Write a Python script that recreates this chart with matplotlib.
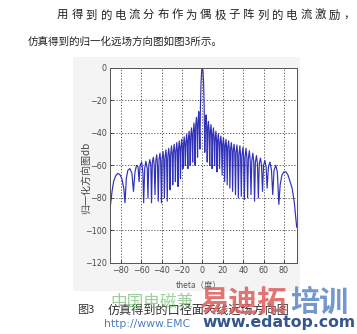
import matplotlib
matplotlib.use("Agg")
import matplotlib.pyplot as plt
from matplotlib.patches import Rectangle

plt.rcParams["font.family"] = ["Noto Sans CJK SC", "DejaVu Sans"]

W, H = 357, 334

# far-field pattern (theta in degrees, gain in dB)
theta_left = [
    -90.5, -88.5, -87.0, -85.0, -83.0, -81.0, -79.0, -77.0, -75.8, -74.5,
    -73.0, -71.0, -69.0, -67.5, -66.0, -64.5, -63.0, -62.0, -61.0, -59.5,
    -58.3, -57.5, -56.5, -55.3, -54.0, -53.3, -52.5, -51.5, -50.5, -49.8,
    -49.0, -48.0, -47.2, -46.4, -45.6, -44.7, -43.9, -43.2, -42.4, -41.5,
    -40.8, -40.1, -39.4, -38.5, -37.8, -37.2, -36.5, -35.7, -35.0, -34.4,
    -33.7, -32.9, -32.2, -31.6, -31.0, -30.2, -29.5, -29.0, -28.4, -27.6,
    -26.9, -26.4, -25.8, -25.0, -24.4, -23.9, -23.3, -22.6, -22.0, -21.4,
    -20.9, -20.2, -19.6, -19.0, -18.5, -17.8, -17.2, -16.6, -16.1, -15.4,
    -14.8, -14.2, -13.7, -13.0, -12.4, -11.9, -11.3, -10.6, -10.0, -9.5,
    -8.9, -8.2, -7.6, -7.1, -6.5, -5.8, -5.2, -4.7, -4.1, -3.5,
    -3.0, -2.4, -1.8, -1.2, -0.6, 0.0,
]
gain_left = [
    -87, -76, -70, -66.5, -65, -65.5, -68, -74, -83, -68,
    -63, -62, -65, -76, -64, -60, -61, -70, -60, -58,
    -64, -83, -62, -57.5, -62, -80, -60, -56.5, -60, -83,
    -58, -55, -60, -78, -57, -53.5, -60, -82, -56, -52.5,
    -58, -83, -56, -51.5, -57, -80, -55, -50.5, -56, -82,
    -54, -49.5, -55, -75, -53, -48, -54, -72, -52, -47,
    -53, -70, -51, -46, -52, -73, -50, -45, -50, -68,
    -49, -44, -49, -62, -48, -42.5, -48, -60, -46, -41,
    -46, -62, -44, -39, -45, -60, -42, -37, -43, -58,
    -40, -34, -40, -60, -36, -30.5, -36, -55, -32, -27,
    -33, -50, -22, -8, -1.5, 0.0,
]
theta_right = [
    0.6, 1.2, 1.8, 2.4, 3.0, 3.6, 4.2, 4.8, 5.4, 6.0,
    6.6, 7.2, 7.8, 8.5, 9.1, 9.6, 10.2, 10.9, 11.5, 12.0,
    12.6, 13.3, 13.9, 14.4, 15.0, 15.7, 16.3, 16.9, 17.5, 18.2,
    18.8, 19.4, 20.0, 20.7, 21.3, 21.9, 22.5, 23.2, 23.8, 24.4,
    25.0, 25.8, 26.4, 27.0, 27.7, 28.4, 29.1, 29.7, 30.3, 31.1,
    31.8, 32.5, 33.1, 33.9, 34.6, 35.3, 36.0, 36.8, 37.5, 38.2,
    38.9, 39.8, 40.5, 41.2, 41.9, 42.8, 43.6, 44.4, 45.1, 46.1,
    46.9, 47.7, 48.5, 49.5, 50.4, 51.2, 52.0, 53.1, 54.0, 54.9,
    55.8, 57.0, 58.0, 59.0, 60.0, 61.3, 62.5, 63.5, 64.8, 66.3,
    67.8, 69.0, 70.3, 72.0, 73.5, 75.0, 76.3, 78.0, 80.0, 82.0,
    84.0, 86.0, 88.0, 90.0, 91.5, 92.5,
]
gain_right = [
    -1.5, -9, -24, -52, -34, -29, -35, -58, -37, -33,
    -38, -60, -40, -35, -41, -62, -42, -37, -43, -60,
    -44, -39, -45, -64, -45, -40.5, -46, -62, -46, -42,
    -47, -66, -47, -43, -48, -70, -48, -44, -49, -72,
    -49, -45, -50, -74, -50, -46, -51, -76, -51, -47,
    -52, -78, -52, -47.5, -53, -80, -53, -48, -54, -79,
    -54, -49, -55, -81, -55, -49.5, -55, -80, -56, -51,
    -57, -78, -57, -52.5, -58, -82, -58, -54, -59, -80,
    -59, -55.5, -60, -76, -60, -57, -61, -74, -61, -58,
    -63, -78, -63, -60, -64, -84, -72, -66, -64, -64,
    -66, -70, -74, -82, -92, -98,
]

theta = theta_left + theta_right
gain = gain_left + gain_right

x_ticks = [-80, -60, -40, -20, 0, 20, 40, 60, 80]
y_ticks = [0, -20, -40, -60, -80, -100, -120]

para_line1 = "用得到的电流分布作为偶极子阵列的电流激励，"
para_line2 = "仿真得到的归一化远场方向图如图3所示。"
fig_no = "图3"
caption = "仿真得到的口径面天线远场方向图"
y_label = "归一化方向图db"
x_label = "theta（度）"


def fx(px):
    return px / W


def fy(py):
    return 1 - py / H


fig = plt.figure(figsize=(W / 100, H / 100), dpi=100)
fig.patch.set_facecolor("white")

# light grey box behind the embedded chart image
fig.patches.append(Rectangle((fx(73), fy(291)), fx(300) - fx(73), fy(57) - fy(291),
                             transform=fig.transFigure, facecolor="#f4f4f4",
                             edgecolor="none", zorder=-5))

ax = fig.add_axes([fx(110), fy(263), fx(296.7) - fx(110), fy(67.7) - fy(263)])
ax.set_zorder(1)
ax.set_facecolor("white")
ax.plot(theta, gain, color="#3030b8", lw=0.85)
ax.set_xlim(-90.5, 92.5)
ax.set_ylim(-120, 0)
ax.set_xticks(x_ticks)
ax.set_yticks(y_ticks)
ax.grid(True, color="#444444", ls=(0, (1.5, 2)), lw=0.6)
ax.tick_params(direction="in", length=2, width=0.5, labelsize=5.8,
               labelcolor="#4a4a4a", pad=2.5)
for lab in ax.get_xticklabels() + ax.get_yticklabels():
    lab.set_family("DejaVu Sans")
for s in ax.spines.values():
    s.set_color("#555555")
    s.set_linewidth(0.7)

fig.text(fx(199), fy(285), x_label, fontsize=6, color="#555555",
         ha="center", va="center")
fig.text(fx(86), fy(178), y_label, fontsize=7.2, color="#444444",
         rotation=90, ha="center", va="center")

# paragraph text above the chart, first line justified
x0, x1 = 57, 343
step = (x1 - x0) / (len(para_line1) - 1)
for i, ch in enumerate(para_line1):
    fig.text(fx(x0 + i * step), fy(15), ch, fontsize=8.2, color="#222222",
             ha="left", va="center")
fig.text(fx(28), fy(41), para_line2, fontsize=7.6, color="#222222",
         ha="left", va="center")

# caption
fig.text(fx(77), fy(310), fig_no, fontsize=8, color="#333333",
         ha="left", va="center")
fig.text(fx(108), fy(310), caption, fontsize=8.7, color="#333333",
         ha="left", va="center")

# watermark
fig.text(fx(110), fy(302), "中国电磁兼", fontsize=12, color="#58b058",
         alpha=0.6, ha="left", va="center", zorder=5)
fig.text(fx(199), fy(302), "易迪拓", fontsize=21, color="#e05a5a",
         alpha=0.85, ha="left", va="center", weight="bold", zorder=5)
fig.text(fx(290), fy(302), "培训", fontsize=21, color="#5a86c8",
         alpha=0.85, ha="left", va="center", weight="bold", zorder=5)
fig.text(fx(104), fy(324), "http://www.EMC", fontsize=7.8, color="#4f7fc0",
         ha="left", va="center", family="DejaVu Sans", zorder=5)
fig.text(fx(202), fy(323), "www.edatop.com", fontsize=11.3, color="#34558e",
         ha="left", va="center", weight="bold", family="DejaVu Sans", zorder=5)

fig.savefig("out.png", dpi=100)
